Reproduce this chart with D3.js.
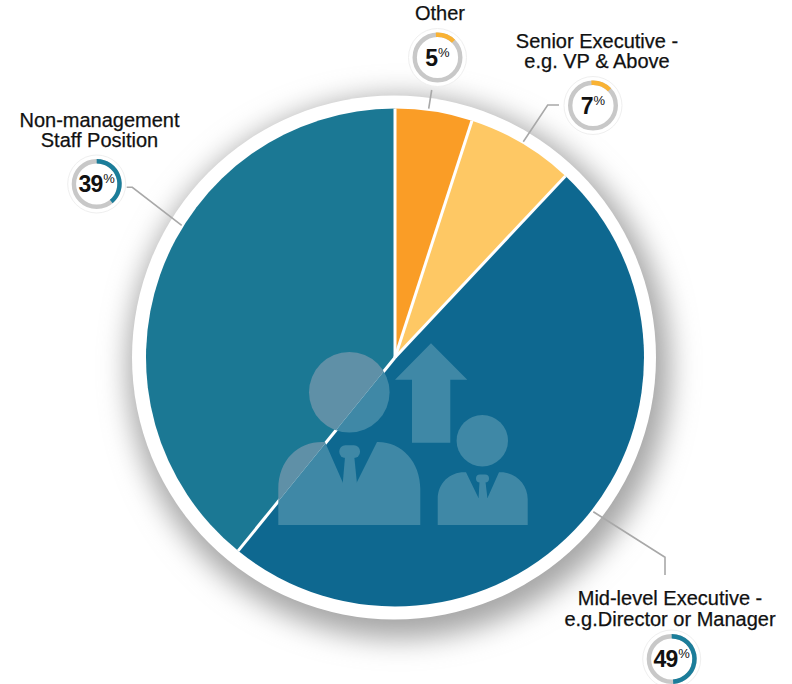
<!DOCTYPE html>
<html><head><meta charset="utf-8">
<script src="https://cdnjs.cloudflare.com/ajax/libs/d3/7.8.5/d3.min.js"></script>
<style>html,body{margin:0;padding:0;background:#fff}svg{display:block}text{font-family:"Liberation Sans",Arial,sans-serif}</style>
</head><body><svg id="c" width="792" height="684"></svg>
<script>
const categories = ["Other","Senior Executive","Mid-level Executive","Non-management"];
const values = [5,7,49,39];
const sliceShares = [5,7,48.85,39.15];
const gaugeShown = [13.5,14,49,39];
const labelLines = [["Other"],["Senior Executive -","e.g. VP & Above"],["Mid-level Executive -","e.g.Director or Manager"],["Non-management","Staff Position"]];
const sliceColors = ["#fa9d26","#fec864","#0e6890","#1b7894"];
const gaugeColors = ["#f9b233","#f9b233","#1b7d9a","#1b7d9a"];

const layout = [
 {g:[437.5,57.5], t:[440,[20]], lead:[[431.7,90],[428.7,108.7]], gs:-4},
 {g:[593,105.5], t:[597,[48,68]], lead:[[559,105],[547.7,105],[523.3,141.7]], gs:-4},
 {g:[671.7,659], t:[670,[605,626]], lead:[[593.3,511.7],[665,557.3],[665,575]], gs:0},
 {g:[96.7,184], t:[99.5,[127,147]], lead:[[126.7,187.3],[132.3,187.3],[181.7,225.3]], gs:0}
];
const cx=395, cy=357.5, R=249;
const svg=d3.select("#c");
const defs=svg.append("defs");
const f=defs.append("filter").attr("id","sh").attr("x","-30%").attr("y","-30%").attr("width","160%").attr("height","160%");
f.append("feGaussianBlur").attr("stdDeviation",14);

svg.append("circle").attr("cx",cx+4).attr("cy",cy+10).attr("r",271).attr("fill","#a6a6a6").attr("filter","url(#sh)");
svg.append("circle").attr("cx",cx-1).attr("cy",cy).attr("r",262).attr("fill","#fff");

const pie=d3.pie().sort(null).value(d=>d)(sliceShares);
const arc=d3.arc().innerRadius(0).outerRadius(R);
const g=svg.append("g").attr("transform",`translate(${cx},${cy})`);
g.selectAll("path.s").data(pie).join("path").attr("class","s").attr("d",arc).attr("fill",(d,i)=>sliceColors[i]);

defs.append("clipPath").attr("id","clipL").append("path").attr("transform",`translate(${cx},${cy})`).attr("d",arc(pie[3]));
defs.append("clipPath").attr("id","clipR").append("path").attr("transform",`translate(${cx},${cy})`).attr("d",arc(pie[2]));
function icon(sel,fill){
  const n=sel.append("g").attr("fill",fill);
  n.append("circle").attr("cx",349.3).attr("cy",392.3).attr("r",40.3);
  n.append("path").attr("d","M278.3 525V489C278.3 460 298 442 322 442H325L343 483H356.5L377 442H378C402 442 420.3 462 420.3 489V525Z");
  n.append("rect").attr("x",339.3).attr("y",445.3).attr("width",20.7).attr("height",12.7).attr("rx",6);
  n.append("path").attr("d","M345 457H354.3L357 484H342.7Z");
  n.append("path").attr("d","M431 343.3L467.3 379.7H450.3V442.7H412V379.7H395Z");
  n.append("circle").attr("cx",482.3).attr("cy",440.7).attr("r",25.7);
  n.append("path").attr("d","M437.7 525V499C437.7 483 450 472.3 464 472.3H466L478.5 498H487.5L499 472.3H501C515 472.3 527.7 484 527.7 499V525Z");
  n.append("rect").attr("x",476).attr("y",474.5).attr("width",13).attr("height",8).attr("rx",4);
  n.append("path").attr("d","M479.5 482H485.5L487.5 499H478.5Z");
}
icon(svg.append("g").attr("clip-path","url(#clipL)"),"#5f90a7");
icon(svg.append("g").attr("clip-path","url(#clipR)"),"#3f88a6");

g.selectAll("line.d").data(pie).join("line").attr("class","d")
 .attr("x2",d=>R*Math.sin(d.startAngle)).attr("y2",d=>-R*Math.cos(d.startAngle))
 .attr("stroke","#fff").attr("stroke-width",3);

const line=d3.line();
values.forEach((v,i)=>{
  const L=layout[i];
  svg.append("path").attr("d",line(L.lead)).attr("fill","none").attr("stroke","#a8a8a8").attr("stroke-width",1.6);
  const t=svg.append("text").attr("text-anchor","middle").attr("font-size",20).attr("fill","#111").attr("stroke","#111").attr("stroke-width",0.25);
  labelLines[i].forEach((s,k)=>t.append("tspan").attr("x",L.t[0]).attr("y",L.t[1][k]).text(s));
  const gg=svg.append("g").attr("transform",`translate(${L.g[0]},${L.g[1]})`);
  gg.append("circle").attr("r",29).attr("fill","#fff").attr("stroke","#efefef").attr("stroke-width",1);
  gg.append("circle").attr("r",22.8).attr("fill","none").attr("stroke","#c8c8c8").attr("stroke-width",4.4);
  const a0=L.gs*Math.PI/180, a1=a0+gaugeShown[i]/100*2*Math.PI;
  gg.append("path").attr("d",d3.arc().innerRadius(20.6).outerRadius(25).startAngle(a0).endAngle(a1)()).attr("fill",gaugeColors[i]);
  const n=gg.append("text").attr("text-anchor","middle").attr("y",8);
  n.append("tspan").attr("font-size",23).attr("font-weight","bold").attr("letter-spacing",-1).attr("fill","#111").text(v);
  n.append("tspan").attr("font-size",13).attr("dy",-9).attr("dx",1).attr("fill","#111").text("%");
});
</script></body></html>
